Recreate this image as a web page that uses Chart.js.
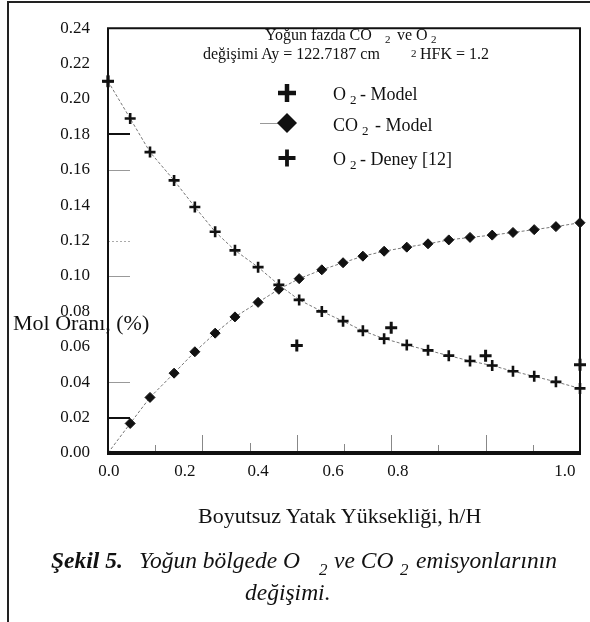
<!DOCTYPE html>
<html><head><meta charset="utf-8">
<script src="https://cdn.jsdelivr.net/npm/chart.js@4.4.0/dist/chart.umd.min.js"></script>
<style>
html,body{margin:0;padding:0;background:#fff;}
#wrap{position:relative;width:590px;height:622px;overflow:hidden;font-family:'Liberation Serif','Times New Roman',serif;color:#111;}
#frame{position:absolute;left:7px;top:1px;width:700px;height:700px;border-left:2px solid #222;border-top:2px solid #222;}
canvas{position:absolute;left:0;top:0;}
.t{position:absolute;white-space:pre;line-height:1;}
</style></head><body>
<div id="wrap">
<div id="frame"></div>
<canvas id="c" width="590" height="622"></canvas>
</div>
<script>
// ---- data ----
const hH = [0, 0.047, 0.089, 0.140, 0.184, 0.227, 0.269, 0.318, 0.362, 0.405, 0.453, 0.498, 0.540, 0.585, 0.633, 0.678, 0.722, 0.767, 0.814, 0.858, 0.903, 0.949, 1.0];
const o2Model = [0.210, 0.189, 0.170, 0.154, 0.139, 0.125, 0.1145, 0.105, 0.095, 0.0865, 0.080, 0.0745, 0.069, 0.0646, 0.061, 0.058, 0.055, 0.052, 0.0494, 0.0462, 0.0433, 0.0402, 0.0365];
const co2Model = [0, 0.0167, 0.0314, 0.0451, 0.0572, 0.0677, 0.0769, 0.0851, 0.0925, 0.0985, 0.1035, 0.1075, 0.1112, 0.114, 0.1163, 0.1182, 0.1204, 0.1218, 0.1231, 0.1246, 0.1262, 0.1279, 0.1301];
const hHDeney = [0, 0.4, 0.6, 0.8, 1.0];
const o2Deney = [0.210, 0.0607, 0.0708, 0.0549, 0.0499];
const xTickLabels = ['0.0', '0.2', '0.4', '0.6', '0.8', '1.0'];
const yTickValues = [0, 0.02, 0.04, 0.06, 0.08, 0.10, 0.12, 0.14, 0.16, 0.18, 0.20, 0.22, 0.24];
const yTickLabels = ['0.00', '0.02', '0.04', '0.06', '0.08', '0.10', '0.12', '0.14', '0.16', '0.18', '0.20', '0.22', '0.24'];

// ---- layout / style (not data) ----
const xLabelAt = [0.002, 0.163, 0.318, 0.477, 0.614, 0.968]; // label placement as printed in the figure
const xTickMarks = [[0.1, 8], [0.2, 18], [0.3, 10], [0.4, 18], [0.5, 9], [0.6, 18], [0.7, 8], [0.8, 18], [0.9, 8]];
const yInnerTicks = [[0.18, '#111', 2, []], [0.16, '#999', 1, []], [0.12, '#aaa', 1, [2, 2]], [0.10, '#999', 1, []], [0.04, '#999', 1, []], [0.02, '#111', 2, []]];
const INK = '#111';
Chart.defaults.font.family = "'Liberation Serif','Times New Roman',serif";
Chart.defaults.color = INK;

const pts = (xs, ys) => xs.map((x, i) => ({ x: x, y: ys[i] }));

const framePlugin = {
  id: 'framePlugin',
  beforeDatasetsDraw(chart) {
    const { ctx, chartArea: a, scales: { x, y } } = chart;
    ctx.save();
    ctx.strokeStyle = '#888';
    ctx.lineWidth = 1;
    xTickMarks.forEach(([v, len]) => {
      const px = Math.round(x.getPixelForValue(v)) + 0.5;
      ctx.beginPath(); ctx.moveTo(px, a.bottom); ctx.lineTo(px, a.bottom - len); ctx.stroke();
    });
    yInnerTicks.forEach(([v, col, w, dash]) => {
      const py = Math.round(y.getPixelForValue(v)) + (w % 2 ? 0.5 : 0);
      ctx.strokeStyle = col; ctx.lineWidth = w; ctx.setLineDash(dash);
      ctx.beginPath(); ctx.moveTo(a.left, py); ctx.lineTo(a.left + 22, py); ctx.stroke();
    });
    ctx.restore();
  },
  afterDraw(chart) {
    const { ctx, chartArea: a } = chart;
    ctx.save();
    ctx.strokeStyle = INK;
    ctx.lineWidth = 2;
    ctx.beginPath();
    ctx.moveTo(a.left, a.bottom); ctx.lineTo(a.left, a.top); ctx.lineTo(a.right, a.top); ctx.lineTo(a.right, a.bottom);
    ctx.stroke();
    ctx.lineWidth = 4;
    ctx.beginPath(); ctx.moveTo(a.left - 1, a.bottom); ctx.lineTo(a.right + 1, a.bottom); ctx.stroke();
    // legend markers
    ctx.fillStyle = INK;
    const cross = (cx, cy, r, w) => {
      ctx.lineWidth = w; ctx.beginPath();
      ctx.moveTo(cx - r, cy); ctx.lineTo(cx + r, cy); ctx.moveTo(cx, cy - r); ctx.lineTo(cx, cy + r); ctx.stroke();
    };
    cross(287, 93, 9, 4.5);
    ctx.strokeStyle = '#999'; ctx.lineWidth = 1;
    ctx.beginPath(); ctx.moveTo(260, 123.5); ctx.lineTo(278, 123.5); ctx.stroke();
    ctx.beginPath(); ctx.moveTo(287, 113); ctx.lineTo(297, 123); ctx.lineTo(287, 133); ctx.lineTo(277, 123); ctx.closePath(); ctx.fill();
    ctx.strokeStyle = INK;
    cross(287, 158, 8.5, 3.8);
    ctx.restore();
  }
};

new Chart(document.getElementById('c'), {
  type: 'scatter',
  data: {
    datasets: [
      { label: 'O2 - Model', data: pts(hH, o2Model), showLine: true, borderColor: '#777', borderWidth: 1, borderDash: [3, 2],
        pointStyle: 'cross', pointRadius: 5.5, pointBorderWidth: 2.6, pointBorderColor: INK, pointBackgroundColor: INK, clip: false },
      { label: 'CO2 - Model', data: pts(hH, co2Model), showLine: true, borderColor: '#777', borderWidth: 1, borderDash: [3, 2],
        pointStyle: 'rectRot', pointRadius: c => (c.dataIndex === 0 ? 0 : 5), pointBorderWidth: 1, pointBorderColor: INK, pointBackgroundColor: INK, clip: false },
      { label: 'O2 - Deney [12]', data: pts(hHDeney, o2Deney), showLine: false,
        pointStyle: 'cross', pointRadius: 6, pointBorderWidth: 3, pointBorderColor: INK, pointBackgroundColor: INK, clip: false }
    ]
  },
  options: {
    responsive: false, animation: false, events: [], devicePixelRatio: 1,
    layout: { padding: { left: 0, right: 10, top: 17, bottom: 139 } },
    plugins: { legend: { display: false }, tooltip: { enabled: false } },
    scales: {
      x: {
        type: 'linear', min: 0, max: 1,
        afterBuildTicks: s => { s.ticks = xLabelAt.map(v => ({ value: v })); },
        afterFit: s => { s.height = 30; },
        ticks: { callback: (v, i) => xTickLabels[i], font: { size: 17 }, color: INK, padding: 8, maxRotation: 0, autoSkip: false },
        grid: { display: false, drawTicks: false }, border: { display: false }
      },
      y: {
        min: 0, max: 0.24,
        afterBuildTicks: s => { s.ticks = yTickValues.map(v => ({ value: v })); },
        afterFit: s => { s.width = 108; },
        ticks: { callback: (v, i) => yTickLabels[i], font: { size: 17 }, color: INK, padding: 18, autoSkip: false },
        grid: { display: false, drawTicks: false }, border: { display: false }
      }
    }
  },
  plugins: [framePlugin]
});

// ---- text layer ----
const wrap = document.getElementById('wrap');
function place(text, left, baseline, size, style) {
  const s = document.createElement('div');
  s.className = 't';
  s.textContent = text;
  s.style.left = left + 'px';
  s.style.top = (baseline - 0.8375 * size) + 'px';
  s.style.fontSize = size + 'px';
  if (style) s.style.cssText += style;
  wrap.appendChild(s);
}
// annotation
place('Yoğun fazda CO', 265, 40, 16);
place('2', 385, 43, 11);
place('ve O', 397, 40, 16);
place('2', 431, 43, 11);
place('değişimi Ay = 122.7187 cm', 203, 59.5, 16);
place('2', 411, 57, 11);
place('HFK = 1.2', 420, 59.5, 16);
// legend
place('O', 333, 100, 18); place('2', 350, 104, 13); place('- Model', 360, 100, 18);
place('CO', 333, 131, 18); place('2', 362, 135, 13); place('- Model', 375, 131, 18);
place('O', 333, 165, 18); place('2', 350, 169, 13); place('- Deney [12]', 360, 165, 18);
// axis titles
place('Mol Oranı, (%)', 13, 330, 22);
place('Boyutsuz Yatak Yüksekliği, h/H', 198, 523, 22);
// caption
const it = 'font-style:italic;';
place('Şekil 5.', 51, 569, 23.5, 'font-weight:bold;' + it);
place('Yoğun bölgede O', 139, 569, 23.5, it);
place('2', 319, 575, 17, it);
place('ve CO', 334, 569, 23.5, it);
place('2', 400, 575, 17, it);
place('emisyonlarının', 416, 569, 23.5, it);
place('değişimi.', 245, 601, 23.5, it);
</script>
</body></html>
